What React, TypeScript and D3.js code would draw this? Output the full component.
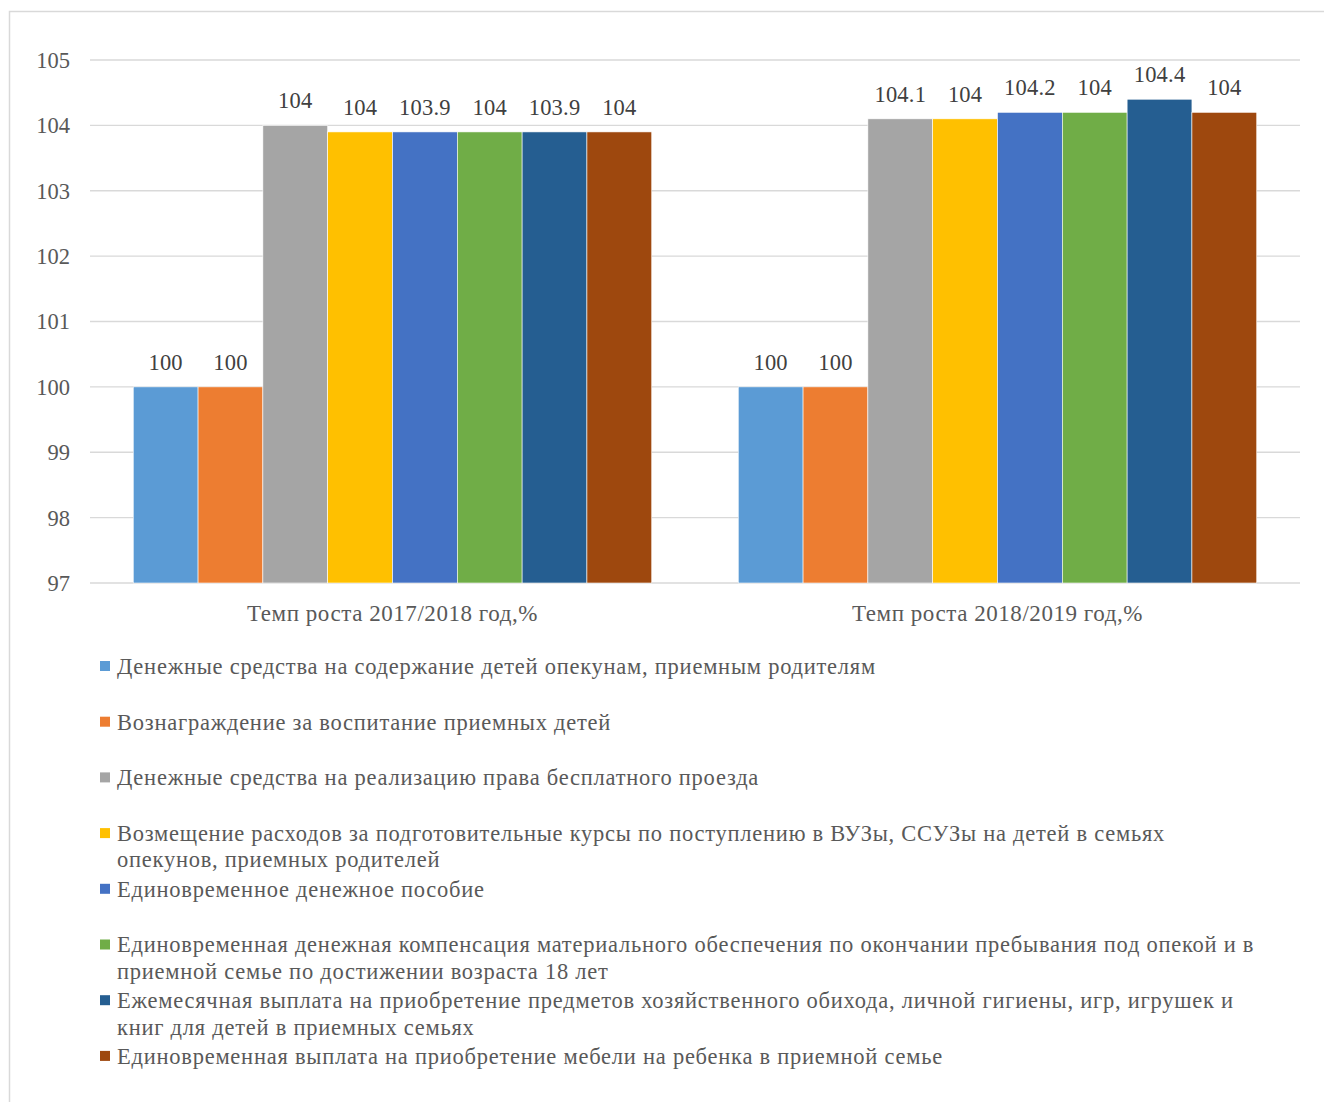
import * as d3 from "d3";

const categories = ["Темп роста 2017/2018 год,%", "Темп роста 2018/2019 год,%"];

const seriesNames = [
  ["Денежные средства на содержание детей опекунам,  приемным родителям"],
  ["Вознаграждение за воспитание приемных детей"],
  ["Денежные средства на реализацию права бесплатного проезда"],
  [
    "Возмещение расходов за подготовительные курсы по поступлению в ВУЗы, ССУЗы на детей в семьях",
    "опекунов,  приемных родителей",
  ],
  ["Единовременное денежное пособие"],
  [
    "Единовременная денежная компенсация материального обеспечения по окончании пребывания под опекой и в",
    "приемной семье по достижении возраста 18 лет",
  ],
  [
    "Ежемесячная выплата на приобретение предметов хозяйственного обихода, личной гигиены, игр, игрушек и",
    "книг для детей в приемных семьях",
  ],
  ["Единовременная выплата на приобретение мебели на ребенка в приемной семье"],
];

// bar heights per series, [2017/2018, 2018/2019]
const values = [
  [100, 100],
  [100, 100],
  [104, 104.1],
  [103.9, 104.1],
  [103.9, 104.2],
  [103.9, 104.2],
  [103.9, 104.4],
  [103.9, 104.2],
];

// data labels as printed on the chart
const labels = [
  ["100", "100"],
  ["100", "100"],
  ["104", "104.1"],
  ["104", "104"],
  ["103.9", "104.2"],
  ["104", "104"],
  ["103.9", "104.4"],
  ["104", "104"],
];

const yTicks = [97, 98, 99, 100, 101, 102, 103, 104, 105];

const colors = [
  "#5B9BD5",
  "#ED7D31",
  "#A5A5A5",
  "#FFC000",
  "#4472C4",
  "#70AD47",
  "#255E91",
  "#9E480E",
];

const W = 1324;
const H = 1102;
const FONT = "'Liberation Serif', 'Times New Roman', serif";
const TEXT = "#595959";

export default function App() {
  const left = 90;
  const right = 1300;
  const top = 60;
  const bottom = 583;

  const y = d3.scaleLinear().domain([97, 105]).range([bottom, top]);
  const x0 = d3.scaleBand<string>().domain(categories).range([left, right]);
  const bw = x0.bandwidth();
  const x1 = d3
    .scaleBand<number>()
    .domain(d3.range(seriesNames.length))
    .range([bw * 0.0715, bw * (1 - 0.0715)]);

  const legendTop = 666;
  const legendStep = 55.7;
  const lineH = 26.5;

  return (
    <svg
      width={W}
      height={H}
      style={{ position: "absolute", left: 0, top: 0, background: "#fff" }}
      fontFamily={FONT}
    >
      <rect x={9.5} y={11.5} width={W + 20} height={H + 20} fill="none" stroke="#d9d9d9" strokeWidth={1.5} />

      {/* grid + y axis labels */}
      {yTicks.map((t) => (
        <g key={t}>
          <line x1={left} x2={right} y1={y(t)} y2={y(t)} stroke="#d9d9d9" strokeWidth={1.3} />
          <text x={70} y={y(t)} dy="0.35em" textAnchor="end" fontSize={22.5} fill={TEXT}>
            {t}
          </text>
        </g>
      ))}

      {/* bars */}
      {categories.map((c, ci) => (
        <g key={c} transform={`translate(${x0(c)},0)`}>
          {values.map((v, si) => (
            <rect
              key={si}
              x={x1(si)}
              y={y(v[ci])}
              width={x1.bandwidth()}
              height={y(97) - y(v[ci])}
              fill={colors[si]}
              stroke="#fff"
              strokeWidth={0.6}
            />
          ))}
          {values.map((v, si) => (
            <text
              key={"l" + si}
              x={(x1(si) ?? 0) + x1.bandwidth() / 2}
              y={y(v[ci]) - 17}
              textAnchor="middle"
              fontSize={22.5}
              letterSpacing={0.2}
              fill="#404040"
            >
              {labels[si][ci]}
            </text>
          ))}
          <text
            x={bw / 2}
            y={613}
            dy="0.35em"
            textAnchor="middle"
            fontSize={23}
            letterSpacing={0.55}
            fill={TEXT}
          >
            {c}
          </text>
        </g>
      ))}

      {/* legend */}
      {seriesNames.map((lines, i) => {
        const cy = legendTop + i * legendStep;
        return (
          <g key={i}>
            <rect x={100} y={cy - 5} width={10} height={10} fill={colors[i]} />
            {lines.map((ln, li) => (
              <text
                key={li}
                x={117}
                y={cy + li * lineH}
                dy="0.35em"
                fontSize={22.5}
                letterSpacing={0.75}
                fill={TEXT}
              >
                {ln}
              </text>
            ))}
          </g>
        );
      })}
    </svg>
  );
}
